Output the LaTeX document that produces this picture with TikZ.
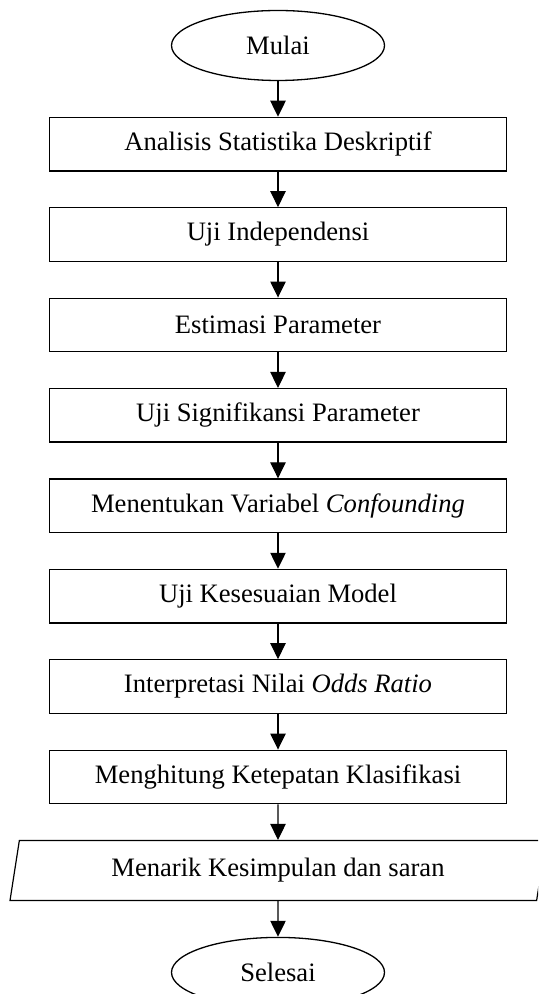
\documentclass[tikz,border=0pt]{standalone}
\usepackage{fontspec}
\setmainfont{Liberation Serif}
\usepackage{tikz}
\usetikzlibrary{positioning,shapes.geometric,arrows.meta}

\begin{document}
\begin{tikzpicture}[x=0.5pt,y=-0.5pt,>={Triangle[width=7.7pt,length=8pt]},
						node distance=17.8pt,
						font=\fontsize{13.3}{16}\selectfont,
						terminal/.style={draw, ellipse, line width=0.65pt, minimum width=106.5pt, minimum height=35pt, inner sep=0pt},
						process/.style={draw, rectangle, line width=0.65pt, minimum width=228.5pt, minimum height=26.75pt, inner sep=0pt},
						io/.style={draw, trapezium, trapezium left angle=76, trapezium right angle=104, trapezium stretches=true, line width=0.6pt, minimum width=268.5pt, minimum height=30pt, inner sep=0pt},
						flow/.style={->, line width=0.55pt}]

						\useasboundingbox (0,0) rectangle (538,994);
						\clip (0,0) rectangle (538,994);

						%%% Start
						\node at (278, 45.5) [terminal] (mulai) {Mulai};

						%%% Steps
						\node [below=of mulai,process] (deskriptif) {Analisis Statistika Deskriptif};
						\node [below=of deskriptif,process] (independensi) {Uji Independensi};
						\node [below=of independensi,process] (estimasi) {Estimasi Parameter};
						\node [below=of estimasi,process] (signifikansi) {Uji Signifikansi Parameter};
						\node [below=of signifikansi,process] (confounding) {Menentukan Variabel \textit{Confounding}};
						\node [below=of confounding,process] (kesesuaian) {Uji Kesesuaian Model};
						\node [below=of kesesuaian,process] (oddsratio) {Interpretasi Nilai \textit{Odds Ratio}};
						\node [below=of oddsratio,process] (klasifikasi) {Menghitung Ketepatan Klasifikasi};
						\node [below=of klasifikasi,io] (kesimpulan) {Menarik Kesimpulan dan saran};

						%%% End
						\node [below=of kesimpulan,terminal] (selesai) {Selesai};

						%% Connections
						\path [flow] (mulai) edge (deskriptif);
						\path [flow] (deskriptif) edge (independensi);
						\path [flow] (independensi) edge (estimasi);
						\path [flow] (estimasi) edge (signifikansi);
						\path [flow] (signifikansi) edge (confounding);
						\path [flow] (confounding) edge (kesesuaian);
						\path [flow] (kesesuaian) edge (oddsratio);
						\path [flow] (oddsratio) edge (klasifikasi);
						\path [flow] (klasifikasi) edge (kesimpulan);
						\path [flow] (kesimpulan) edge (selesai);
					\end{tikzpicture}
\end{document}
